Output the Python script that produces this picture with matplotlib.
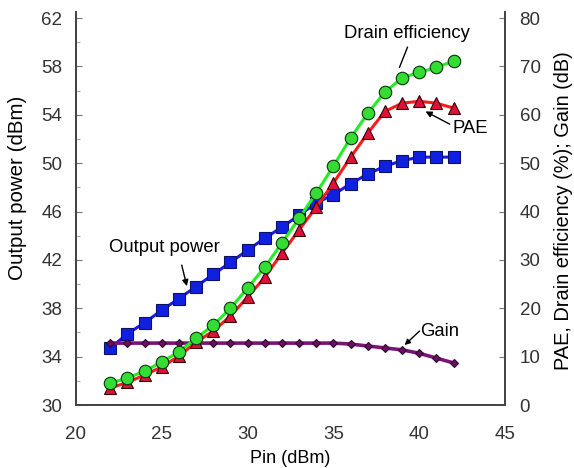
"""Output power, drain efficiency, PAE and gain versus input power"""

import matplotlib
matplotlib.use('Agg')
from matplotlib import pyplot as plt

plt.rcParams['font.family'] = ['Liberation Sans', 'DejaVu Sans']

pin = [22, 23, 24, 25, 26, 27, 28, 29, 30, 31, 32, 33, 34, 35, 36, 37, 38, 39, 40, 41, 42]
output_power = [34.7, 35.9, 36.8, 37.85, 38.8, 39.8, 40.8, 41.8, 42.8, 43.8, 44.7, 45.7,
                46.7, 47.4, 48.3, 49.1, 49.75, 50.2, 50.5, 50.5, 50.5]
drain_eff = [4.5, 5.6, 7.0, 8.9, 11.0, 13.8, 16.5, 20.0, 24.2, 28.5, 33.5, 38.6,
             43.8, 49.4, 55.2, 60.3, 64.7, 67.6, 68.8, 69.8, 71.1]
pae = [3.5, 4.7, 6.2, 7.9, 10.1, 13.0, 15.3, 18.4, 22.3, 26.4, 31.4, 36.2,
       40.9, 45.9, 51.2, 56.2, 60.7, 62.4, 62.8, 62.4, 61.4]
gain = [12.8, 12.8, 12.8, 12.8, 12.8, 12.8, 12.8, 12.8, 12.8, 12.8, 12.8, 12.8,
        12.8, 12.8, 12.6, 12.2, 11.8, 11.4, 10.7, 9.7, 8.7]

TICK_COLOR = '#333333'


def main():
    """Main method"""

    fig = plt.figure(figsize=(5.74, 4.68), dpi=100)
    ax = fig.add_axes([0.1324, 0.1346, 0.7474, 0.8397])
    ax2 = ax.twinx()

    ax.plot(pin, output_power, color='#1a1aee', lw=2.2, marker='s', ms=8.5,
            mfc='#1020e0', mec='#101060', mew=0.8, zorder=3)
    ax2.plot(pin, gain, color='#7a1577', lw=2.6, marker='D', ms=4.5,
             mfc='#6a1060', mec='#300830', mew=0.8, zorder=2)
    ax2.plot(pin, pae, color='#ff1a1a', lw=2.2, marker='^', ms=8.5,
             mfc='#e0103a', mec='#300000', mew=0.8, zorder=3)
    ax2.plot(pin, drain_eff, color='#22ee22', lw=2.2, marker='o', ms=9,
             mfc='#33dd33', mec='#103010', mew=0.8, zorder=4)

    ax.set_xlim(20, 45)
    ax.set_ylim(30, 62.5)
    ax2.set_ylim(0, 81.25)
    ax.set_xticks(range(20, 46, 5))
    ax.set_yticks(range(30, 63, 4))
    ax.set_yticks(range(32, 63, 4), minor=True)
    ax2.set_yticks(range(0, 81, 10))

    for a in (ax, ax2):
        a.spines['top'].set_visible(False)
        for s in ('left', 'right', 'bottom'):
            a.spines[s].set_color('#444444')
            a.spines[s].set_linewidth(1.3)
        a.tick_params(direction='in', labelsize=13.5, labelcolor=TICK_COLOR,
                      color='#777777', length=4, width=0.8)
    ax.tick_params(which='minor', direction='in', length=3, color='#999999')
    ax.tick_params(axis='x', length=0, pad=15)
    ax.tick_params(axis='y', pad=10)
    ax2.tick_params(axis='y', pad=10.5)

    ax.set_xlabel('Pin (dBm)', fontsize=13, labelpad=5)
    ax.set_ylabel('Output power (dBm)', fontsize=14.8)
    ax.yaxis.set_label_coords(-0.114, 0.553)
    ax2.set_ylabel('PAE, Drain efficiency (%); Gain (dB)', fontsize=14.4)
    ax2.yaxis.set_label_coords(1.115, 0.494)

    # annotation texts and their pointer lines
    ax2.text(39.3, 76.9, 'Drain efficiency', fontsize=13.3, ha='center', va='center')
    ax2.annotate('', xy=(38.85, 69.8), xytext=(39.32, 74.0),
                 arrowprops=dict(arrowstyle='-', color='black', lw=1.0,
                                 shrinkA=0, shrinkB=0))
    ax2.text(43.0, 57.2, 'PAE', fontsize=13.3, ha='center', va='center')
    ax2.annotate('', xy=(40.37, 60.7), xytext=(41.78, 58.06),
                 arrowprops=dict(arrowstyle='-|>', color='black', lw=1.0,
                                 mutation_scale=9, shrinkA=0, shrinkB=0))
    ax.text(25.15, 43.06, 'Output power', fontsize=13.3, ha='center', va='center')
    ax.annotate('', xy=(26.46, 39.83), xytext=(26.16, 41.57),
                arrowprops=dict(arrowstyle='-|>', color='black', lw=1.0,
                                mutation_scale=9, shrinkA=0, shrinkB=0))
    ax2.text(40.05, 15.3, 'Gain', fontsize=13.3, ha='left', va='center')
    ax2.annotate('', xy=(39.15, 12.4), xytext=(40.02, 15.3),
                 arrowprops=dict(arrowstyle='-|>', color='black', lw=1.0,
                                 mutation_scale=8, shrinkA=0, shrinkB=0))

    fig.savefig('out.png', dpi=100)


if __name__ == '__main__':
    main()
